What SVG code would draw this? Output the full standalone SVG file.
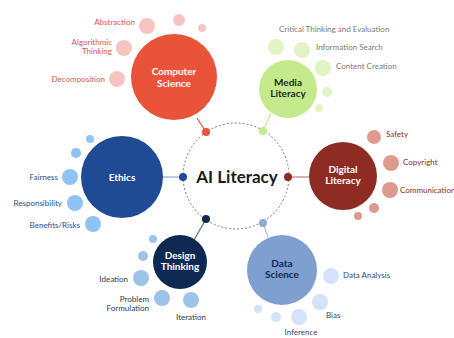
<svg xmlns="http://www.w3.org/2000/svg" width="454" height="338" viewBox="0 0 454 338">
<style>
text{font-family:Lato,"Open Sans","Liberation Sans",sans-serif}
.hub{font-size:10px;font-weight:bold;text-anchor:middle}
.lbl{font-size:8px}
.end{text-anchor:end}
.mid{text-anchor:middle}
.conn{stroke-width:1.2;fill:none}
</style>
<rect width="454" height="338" fill="#ffffff"/>
<g id="connectors">
  <circle cx="236" cy="176" r="53" fill="none" stroke="#7a7a7a" stroke-width="1" stroke-dasharray="2 2"/>
  <line class="conn" x1="197" y1="118" x2="206" y2="132" stroke="#E8533A"/>
  <line class="conn" x1="271" y1="113" x2="263" y2="131" stroke="#C5EA8B"/>
  <line class="conn" x1="163" y1="177" x2="183" y2="177" stroke="#8EA9D6"/>
  <line class="conn" x1="288" y1="177" x2="309" y2="177" stroke="#C47C72"/>
  <line class="conn" x1="206" y1="219" x2="194" y2="240" stroke="#5c6b80"/>
  <line class="conn" x1="263" y1="223" x2="268" y2="237" stroke="#A9C0E4"/>
  <circle cx="206" cy="132" r="4" fill="#E8533A"/>
  <circle cx="263" cy="131" r="4" fill="#C5EA8B"/>
  <circle cx="183" cy="177" r="4" fill="#1E4B94"/>
  <circle cx="288" cy="177" r="4" fill="#8E2B22"/>
  <circle cx="206" cy="219" r="4" fill="#0E2A52"/>
  <circle cx="263" cy="223" r="4" fill="#8EA9D6"/>
</g>
<g id="center">
  <text x="237" y="183" font-size="17" font-weight="bold" text-anchor="middle" fill="#1a1a1a">AI Literacy</text>
</g>
<g id="computer-science">
  <circle cx="147" cy="26" r="8" fill="#F7C5C1"/>
  <circle cx="179" cy="20" r="6" fill="#F7C5C1"/>
  <circle cx="202" cy="28" r="4" fill="#F7C5C1"/>
  <circle cx="124" cy="48" r="8" fill="#F7C5C1"/>
  <circle cx="117" cy="79" r="8" fill="#F7C5C1"/>
  <circle cx="174" cy="77" r="43" fill="#E8533A"/>
  <text class="hub" x="174" y="75" fill="#fff">Computer</text>
  <text class="hub" x="174" y="87" fill="#fff">Science</text>
  <g fill="#D9574C">
    <text class="lbl end" x="135" y="25">Abstraction</text>
    <text class="lbl end" x="112" y="45">Algorithmic</text>
    <text class="lbl end" x="112" y="54">Thinking</text>
    <text class="lbl end" x="105" y="82">Decomposition</text>
  </g>
</g>
<g id="media-literacy">
  <circle cx="276" cy="47" r="8" fill="#E2F4C4"/>
  <circle cx="302" cy="50" r="8" fill="#E2F4C4"/>
  <circle cx="323" cy="68" r="8" fill="#E2F4C4"/>
  <circle cx="327" cy="92" r="5" fill="#E2F4C4"/>
  <circle cx="319" cy="108" r="4" fill="#E2F4C4"/>
  <circle cx="288" cy="89" r="29" fill="#C5EA8B"/>
  <text class="hub" x="288" y="86" fill="#1f2a14">Media</text>
  <text class="hub" x="288" y="97" fill="#1f2a14">Literacy</text>
  <g fill="#7a7a7a">
    <text class="lbl" x="279" y="32">Critical Thinking and Evaluation</text>
    <text class="lbl" x="316" y="50">Information Search</text>
    <text class="lbl" x="336" y="69">Content Creation</text>
  </g>
</g>
<g id="ethics">
  <circle cx="90" cy="139" r="4" fill="#8EC3F3"/>
  <circle cx="76" cy="153" r="5" fill="#8EC3F3"/>
  <circle cx="70" cy="177" r="8" fill="#8EC3F3"/>
  <circle cx="75" cy="203" r="8" fill="#8EC3F3"/>
  <circle cx="93" cy="224" r="8" fill="#8EC3F3"/>
  <circle cx="122" cy="177" r="41" fill="#1E4B94"/>
  <text class="hub" x="122" y="181" fill="#fff">Ethics</text>
  <g fill="#2A4E90">
    <text class="lbl end" x="58" y="180">Fairness</text>
    <text class="lbl end" x="62" y="206">Responsibility</text>
    <text class="lbl end" x="80" y="228">Benefits/Risks</text>
  </g>
</g>
<g id="digital-literacy">
  <circle cx="374" cy="137" r="7" fill="#DE9A8E"/>
  <circle cx="391" cy="163" r="8" fill="#DE9A8E"/>
  <circle cx="390" cy="190" r="8" fill="#DE9A8E"/>
  <circle cx="374" cy="208" r="5" fill="#DE9A8E"/>
  <circle cx="358" cy="216" r="4" fill="#DE9A8E"/>
  <circle cx="343" cy="176" r="34" fill="#8E2B22"/>
  <text class="hub" x="343" y="173" fill="#fff">Digital</text>
  <text class="hub" x="343" y="184" fill="#fff">Literacy</text>
  <g fill="#8E2B22">
    <text class="lbl" x="386" y="137">Safety</text>
    <text class="lbl" x="403" y="165">Copyright</text>
    <text class="lbl" x="400" y="193">Communication</text>
  </g>
</g>
<g id="design-thinking">
  <circle cx="153" cy="239" r="4" fill="#9DC4E8"/>
  <circle cx="143" cy="256" r="5" fill="#9DC4E8"/>
  <circle cx="141" cy="278" r="8" fill="#9DC4E8"/>
  <circle cx="162" cy="298" r="8" fill="#9DC4E8"/>
  <circle cx="191" cy="300" r="8" fill="#9DC4E8"/>
  <circle cx="180" cy="262" r="27" fill="#0E2A52"/>
  <text class="hub" x="180" y="259" fill="#fff">Design</text>
  <text class="hub" x="180" y="270" fill="#fff">Thinking</text>
  <g fill="#2b3a55">
    <text class="lbl end" x="128" y="282">Ideation</text>
    <text class="lbl end" x="149" y="302">Problem</text>
    <text class="lbl end" x="149" y="311">Formulation</text>
    <text class="lbl mid" x="191" y="320">Iteration</text>
  </g>
</g>
<g id="data-science">
  <circle cx="331" cy="276" r="8" fill="#D3E4FA"/>
  <circle cx="320" cy="302" r="8" fill="#D3E4FA"/>
  <circle cx="299" cy="317" r="8" fill="#D3E4FA"/>
  <circle cx="276" cy="317" r="5" fill="#D3E4FA"/>
  <circle cx="258" cy="309" r="4" fill="#D3E4FA"/>
  <circle cx="282" cy="270" r="35" fill="#7F9FD0"/>
  <text class="hub" x="282" y="267" fill="#13284f">Data</text>
  <text class="hub" x="282" y="278" fill="#13284f">Science</text>
  <g fill="#3b4a66">
    <text class="lbl" x="343" y="278">Data Analysis</text>
    <text class="lbl" x="326" y="318">Bias</text>
    <text class="lbl mid" x="301" y="335">Inference</text>
  </g>
</g>
</svg>
